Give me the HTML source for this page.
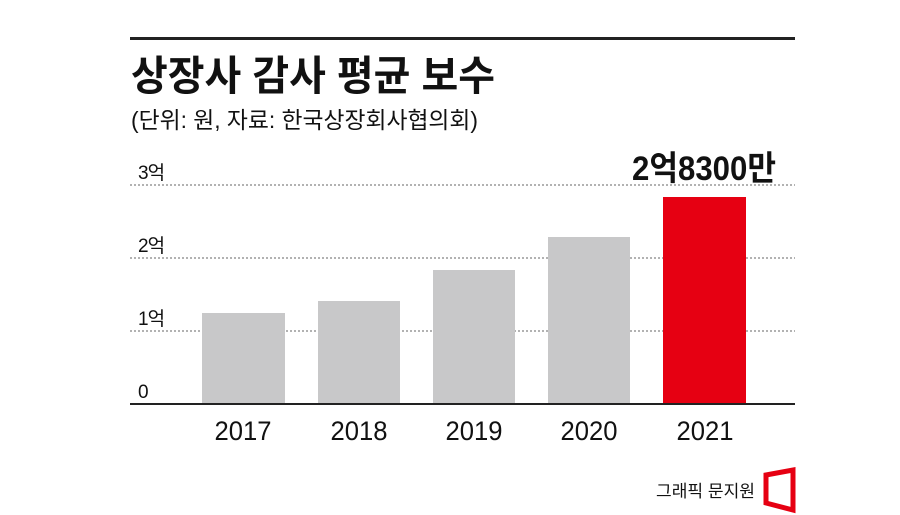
<!DOCTYPE html>
<html><head><meta charset="utf-8"><style>
body{margin:0;background:#fff;}
svg{display:block;}
text{font-family:"Liberation Sans","Noto Sans CJK KR",sans-serif;fill:#111;}
</style></head><body>
<svg width="900" height="515" viewBox="0 0 900 515">
<rect x="130" y="37" width="665" height="3" fill="#222"/>
<text x="131" y="90" font-size="41" font-weight="bold" textLength="364" lengthAdjust="spacingAndGlyphs">상장사 감사 평균 보수</text>
<text x="131" y="128" font-size="23" textLength="347" lengthAdjust="spacingAndGlyphs">(단위: 원, 자료: 한국상장회사협의회)</text>
<g stroke="#666" stroke-width="1" stroke-dasharray="2,2">
<line x1="130" y1="185" x2="795" y2="185"/>
<line x1="130" y1="258" x2="795" y2="258"/>
<line x1="130" y1="331" x2="795" y2="331"/>
</g>
<g font-size="19" letter-spacing="-1">
<text x="138" y="179">3억</text>
<text x="138" y="252">2억</text>
<text x="138" y="325">1억</text>
<text x="138" y="398">0</text>
</g>
<g fill="#c8c8c9">
<rect x="202" y="313" width="83" height="91"/>
<rect x="318" y="301" width="82" height="103"/>
<rect x="433" y="270" width="82" height="134"/>
<rect x="548" y="237" width="82" height="167"/>
</g>
<rect x="663" y="197" width="83" height="207" fill="#e60012"/>
<rect x="130" y="403" width="665" height="2" fill="#222"/>
<g font-size="27" text-anchor="middle">
<text x="243" y="440" textLength="57" lengthAdjust="spacingAndGlyphs">2017</text>
<text x="359" y="440" textLength="57" lengthAdjust="spacingAndGlyphs">2018</text>
<text x="474" y="440" textLength="57" lengthAdjust="spacingAndGlyphs">2019</text>
<text x="589" y="440" textLength="57" lengthAdjust="spacingAndGlyphs">2020</text>
<text x="705" y="440" textLength="57" lengthAdjust="spacingAndGlyphs">2021</text>
</g>
<text x="632" y="180" font-size="34" font-weight="bold" textLength="144" lengthAdjust="spacingAndGlyphs">2억8300만</text>
<text x="656" y="497" font-size="17" textLength="99" lengthAdjust="spacingAndGlyphs">그래픽 문지원</text>
<polygon points="766,475 793,470 793,510 766,503" fill="none" stroke="#e60012" stroke-width="5"/>
</svg>
</body></html>
